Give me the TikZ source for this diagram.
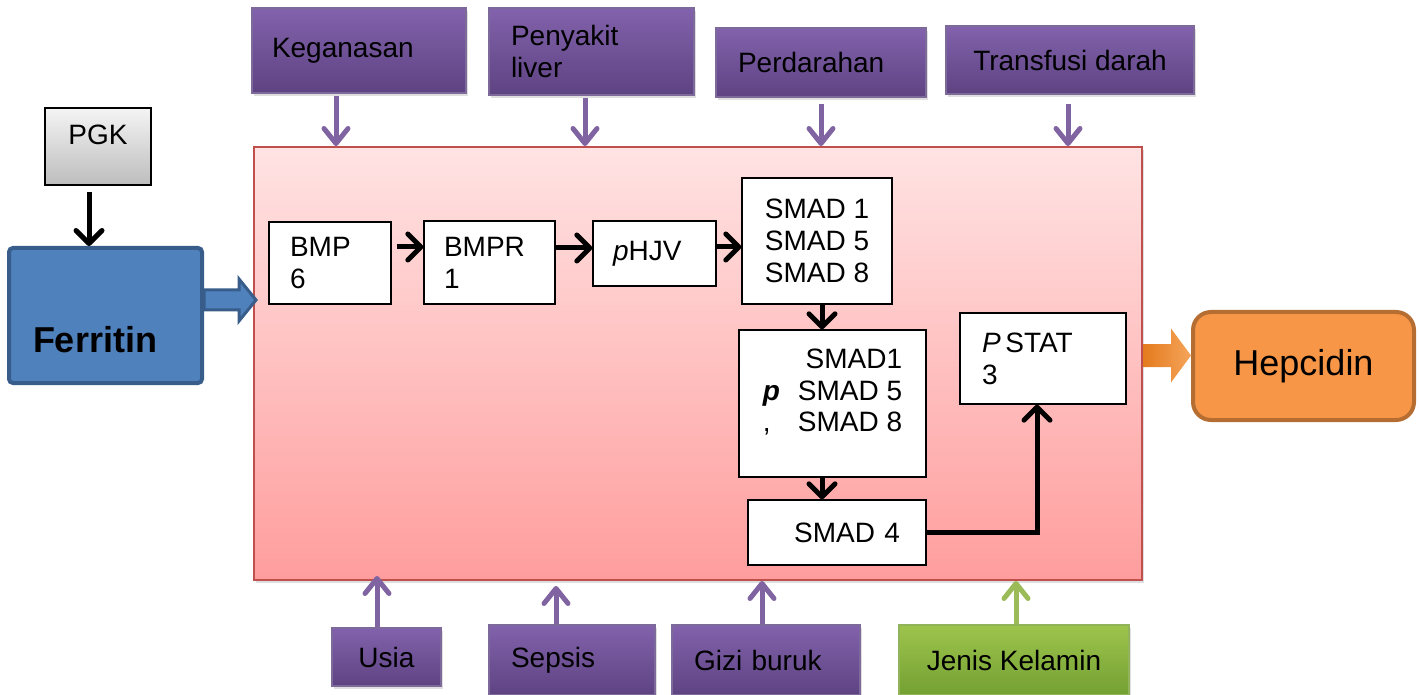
\documentclass[tikz,border=0pt]{standalone}
\usepackage{fontspec}
\setmainfont{Liberation Sans}
\usetikzlibrary{arrows.meta,calc,shadows}
\definecolor{PurpleTop}{HTML}{8262AC}
\definecolor{PurpleBot}{HTML}{5E4382}
\definecolor{PurpleLine}{HTML}{8064A2}
\definecolor{GreenTop}{HTML}{9DC44C}
\definecolor{GreenBot}{HTML}{74A033}
\definecolor{GreenLine}{HTML}{9BBB59}
\definecolor{GrayTop}{HTML}{F4F4F4}
\definecolor{GrayBot}{HTML}{BDBDBD}
\definecolor{PinkTop}{HTML}{FFE3E3}
\definecolor{PinkBot}{HTML}{FF9D9D}
\definecolor{RedLine}{HTML}{C0504D}
\definecolor{BlueFill}{HTML}{4F81BD}
\definecolor{BlueLine}{HTML}{385D8A}
\definecolor{OrangeFill}{HTML}{F79646}
\definecolor{OrangeLine}{HTML}{B66D31}
\definecolor{OrangeDark}{HTML}{E47A1E}
\definecolor{OrangeLight}{HTML}{F5A55A}
\newcommand\nodekeg{Keganasan}
\newcommand\nodepen{Penyakit\\liver}
\newcommand\nodeperd{Perdarahan}
\newcommand\nodetrans{Transfusi darah}
\newcommand\nodeusia{Usia}
\newcommand\nodeseps{Sepsis}
\newcommand\nodegizi{Gizi buruk}
\newcommand\nodejk{Jenis Kelamin}
\newcommand\nodepgk{PGK}
\newcommand\nodefer{Ferritin}
\newcommand\nodehep{Hepcidin}
\newcommand\nodebmp{BMP\\6}
\newcommand\nodebmpr{BMPR\\1}
\newcommand\nodehjv{\textit{p}HJV}
\newcommand\nodesmad{SMAD 1\\SMAD 5\\SMAD 8}
\newcommand\nodepsmad{\begin{tabular}[t]{@{}l@{\hspace{9pt}}r@{}} & SMAD1\\ \textbf{\textit{p}} & SMAD 5\\ , & SMAD 8\end{tabular}}
\newcommand\nodesmadf{SMAD 4}
\newcommand\nodestat{\textit{P}\,STAT\\3}
\tikzstyle{basen} = [rectangle, text=black, font=\fontsize{14}{16}\selectfont]
\tikzstyle{softshadow} = [drop shadow={opacity=0.25, shadow xshift=1pt, shadow yshift=-1.5pt}]
\tikzstyle{pn} = [basen, draw=PurpleBot!80, top color=PurpleTop, bottom color=PurpleBot, softshadow]
\tikzstyle{grn} = [basen, draw=GreenBot!80, top color=GreenTop, bottom color=GreenBot, softshadow]
\tikzstyle{wn} = [basen, draw=black, fill=white, line width=0.7pt]
\tikzstyle{bigbn} = [rectangle, draw=RedLine, line width=1pt, top color=PinkTop, bottom color=PinkBot, softshadow]
\tikzstyle{pa} = [-{Straight Barb[round, length=7.5pt, width=12pt]}, draw=PurpleLine, line width=2.5pt]
\tikzstyle{ga} = [pa, draw=GreenLine]
\tikzstyle{ka} = [-{Straight Barb[round, length=6.5pt, width=13pt]}, draw=black, line width=2.5pt]
\tikzset{every picture/.style={line width=0.7pt}}

\begin{document}
\begin{tikzpicture}[x=0.5pt, y=-0.5pt]
\useasboundingbox (0,0) rectangle (1419,695);
\node[bigbn, minimum width=444pt, minimum height=216.5pt] (box) at (698,363.5) {};
% factors above and below
\node[pn, minimum width=107pt, minimum height=42.5pt, inner xsep=10pt, text width=87pt, align=left] (keg) at (359,50.5) {\nodekeg};
\node[pn, minimum width=102.5pt, minimum height=43.5pt, inner xsep=11pt, text width=80.5pt, align=left] (pen) at (591.5,51.5) {\nodepen};
\node[pn, minimum width=105pt, minimum height=34.5pt, inner xsep=11pt, text width=83pt, align=left] (perd) at (821,62.5) {\nodeperd};
\node[pn, minimum width=124pt, minimum height=34pt] (trans) at (1070,60) {\nodetrans};
\node[pn, minimum width=54.5pt, minimum height=29pt] (usia) at (386.5,657) {\nodeusia};
\node[pn, minimum width=83pt, minimum height=35pt, inner xsep=11pt, text width=61pt, align=left] (seps) at (572,660) {\nodeseps};
\node[pn, minimum width=94pt, minimum height=35pt, inner xsep=11pt, text width=72pt, align=left] (gizi) at (766,660) {\nodegizi};
\node[grn, minimum width=115pt, minimum height=35pt] (jk) at (1014,660) {\nodejk};
% left and right
\node[basen, draw=black, line width=1pt, top color=GrayTop, bottom color=GrayBot, minimum width=53pt, minimum height=38.5pt, text depth=11.5pt] (pgk) at (98,146.5) {\nodepgk};
\node[basen, draw=BlueLine, fill=BlueFill, line width=2pt, rounded corners=2pt, minimum width=96.5pt, minimum height=67.5pt, inner xsep=12pt, text width=72.5pt, align=left, text height=36.5pt, text depth=0pt, font=\fontsize{18}{20}\selectfont\bfseries] (fer) at (105.5,315.5) {\nodefer};
\node[basen, draw=OrangeLine, fill=OrangeFill, line width=2pt, rounded corners=9pt, minimum width=110.5pt, minimum height=54pt, font=\fontsize{18}{20}\selectfont] (hep) at (1303.5,366) {\nodehep};
% pathway
\node[wn, minimum width=61pt, minimum height=41pt, inner xsep=10.5pt, text width=40pt, align=left] (bmp) at (330,263) {\nodebmp};
\node[wn, minimum width=65.5pt, minimum height=41.5pt, inner xsep=10pt, text width=45.5pt, align=left] (bmpr) at (489.5,262.5) {\nodebmpr};
\node[wn, minimum width=61.5pt, minimum height=32.5pt, inner xsep=10pt, text width=41.5pt, align=left] (hjv) at (654.5,253.5) {\nodehjv};
\node[wn, minimum width=75pt, minimum height=63pt, align=center] (smad) at (817,241) {\nodesmad};
\node[wn, minimum width=93.5pt, minimum height=73.5pt, text height=10pt, text depth=45.5pt] (psmad) at (832.5,403.5) {\nodepsmad};
\node[wn, minimum width=89pt, minimum height=32.5pt, inner xsep=13pt, text width=63pt, align=right] (smadf) at (837,532.5) {\nodesmadf};
\node[wn, minimum width=83pt, minimum height=45.5pt, inner xsep=11pt, text width=61pt, align=left] (stat) at (1043,358.5) {\nodestat};
% block arrows
\coordinate (ft) at ($(fer.east)+(0,-15.5)$);
\draw[BlueLine, fill=BlueFill, line width=1.5pt] ($(ft)+(0,-10)$) -- ($(ft)+(35,-10)$) -- ($(ft)+(35,-21)$) -- ($(ft -| box.west)+(3,0)$) -- ($(ft)+(35,21)$) -- ($(ft)+(35,10)$) -- ($(ft)+(0,10)$) -- cycle;
\coordinate (ot) at ($(box.east)+(0,-8)$);
\shade[left color=OrangeDark, right color=OrangeLight] ($(ot)+(0,-11.5)$) -- ($(ot)+(28,-11.5)$) -- ($(ot)+(28,-27)$) -- (ot -| hep.west) -- ($(ot)+(28,27)$) -- ($(ot)+(28,11.5)$) -- ($(ot)+(0,11.5)$) -- cycle;
% connectors
\draw[ka, shorten <=3pt] ([xshift=-4.5pt]pgk.south) -- ([xshift=-4.5pt]pgk.south |- fer.north);
\draw[pa, shorten <=1pt] ([xshift=-11.5pt]keg.south) -- ([xshift=-11.5pt]keg.south |- box.north);
\draw[pa, shorten <=1pt] ([xshift=-3.25pt]pen.south) -- ([xshift=-3.25pt]pen.south |- box.north);
\draw[pa, shorten <=3pt] (perd.south) -- (perd.south |- box.north);
\draw[pa, shorten <=4.5pt] ([xshift=-1pt]trans.south) -- ([xshift=-1pt]trans.south |- box.north);
\draw[pa, shorten >=-2.5pt] ([xshift=-4.75pt]usia.north) -- ([xshift=-4.75pt]usia.north |- box.south);
\draw[pa, shorten >=2.5pt] ([xshift=-8pt]seps.north) -- ([xshift=-8pt]seps.north |- box.south);
\draw[pa] ([xshift=-2pt]gizi.north) -- ([xshift=-2pt]gizi.north |- box.south);
\draw[ga] ([xshift=1pt]jk.north) -- ([xshift=1pt]jk.north |- box.south);
\draw[ka, shorten <=2.5pt] ([yshift=8pt]bmp.east) -- ([yshift=8pt]bmp.east -| bmpr.west);
\draw[ka] ([yshift=7.25pt]bmpr.east) -- ([yshift=7.25pt]bmpr.east -| hjv.west);
\draw[ka] ([yshift=3.25pt]hjv.east) -- ([yshift=3.25pt]hjv.east -| smad.west);
\draw[ka] ([xshift=2.5pt]smad.south) -- ([xshift=2.5pt]smad.south |- psmad.north);
\draw[ka] ([xshift=-5.25pt]psmad.south) -- ([xshift=-5.25pt]psmad.south |- smadf.north);
\draw[ka] (smadf.east) -| ([xshift=-3pt]stat.south);
\end{tikzpicture}
\end{document}
